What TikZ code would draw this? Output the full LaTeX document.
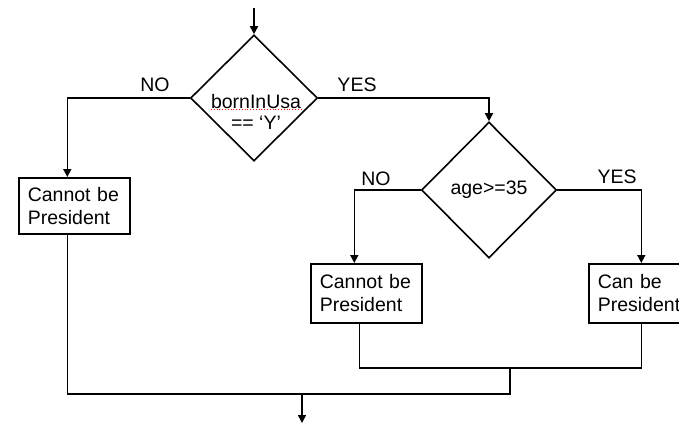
\documentclass[tikz,border=0pt]{standalone}
\usepackage{fontspec}
\setmainfont{Liberation Sans}
\usetikzlibrary{shapes.geometric,arrows.meta}

\begin{document}
\begin{tikzpicture}[x=1pt,y=-1pt,font=\fontsize{19.5}{23}\selectfont,line width=1.6pt,
  decision/.style={diamond,draw,minimum width=127pt,minimum height=126pt,inner sep=0pt},
  outcome/.style={draw,anchor=north west,text width=93pt,align=left,inner xsep=9pt,minimum height=56pt},
  flow/.style={-{Triangle[width=8pt,length=8pt]}},
  answer/.style={inner sep=0pt}]
\useasboundingbox (0,0) rectangle (679,424);

%%% First question
\coordinate (start) at (254,8);
\node[decision] (born) at (254,98) {};
\node[answer,align=center,font=\fontsize{19.5}{21.5}\selectfont] (bornText) at (256,112) {bornInUsa\\== ‘Y’};
\draw[red,dotted,line width=0.8pt] (211,109) -- (301,109);
\node[answer] (noOne) at (155,85) {NO};
\node[answer] (yesOne) at (357,85) {YES};

%%% Second question
\node[decision,minimum width=135pt,minimum height=136pt] (age) at (489,190) {age>=35};
\node[answer] (noTwo) at (376,179) {NO};
\node[answer] (yesTwo) at (617,177) {YES};

%%% Outcomes
\node[outcome] (notBorn) at (18,177) {Cannot be\\President};
\node[outcome,minimum height=59pt] (tooYoung) at (310,263) {Cannot be\\President};
\node[outcome,minimum height=59pt] (canRun) at (588,263) {Can be\\President};

\draw[flow] (start) -- (born.north);
\draw[flow] (born.west) -| ([xshift=-7]notBorn.north);
\draw[flow] (born.east) -| (age.north);
\draw[flow] (age.west) -| ([xshift=-12]tooYoung.north);
\draw[flow] (age.east) -| ([xshift=-3]canRun.north);

%%% Joining the branches
\coordinate (joinB) at (510,368);
\coordinate (joinA) at (510,394);
\coordinate (out) at (302,394);
\coordinate (finish) at (302,423);
\draw ([xshift=-7]tooYoung.south) |- (joinB) -| ([xshift=-3]canRun.south);
\draw ([xshift=-7]notBorn.south) |- (joinA) -- (joinB);
\draw[flow] (out) -- (finish);
\end{tikzpicture}
\end{document}
